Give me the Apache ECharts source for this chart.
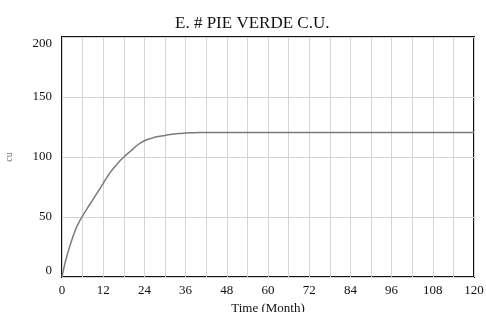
<!DOCTYPE html>
<html style="height: 100%">
<head>
    <meta charset="utf-8">
</head>
<body style="height: 100%; margin: 0; background: #fff">
    <div id="container" style="width: 486px; height: 312px"></div>
    <script type="text/javascript" src="https://cdn.jsdelivr.net/npm/echarts@6/dist/echarts.min.js"></script>
    <script type="text/javascript">
        // months and E. # PIE VERDE C.U. values
        var months = [0, 1, 2, 3, 4, 5, 6, 8, 10, 12, 14, 16, 18, 20, 22, 24, 26, 28, 30, 32, 34, 36, 38, 40, 44, 48, 60, 72, 84, 96, 108, 120];
        var pieVerde = [0, 13, 23, 32, 40, 46, 51, 60, 69, 78, 87, 94, 100, 105, 110, 113.5, 115.5, 117, 118, 119, 119.5, 120, 120.2, 120.4, 120.5, 120.5, 120.5, 120.5, 120.5, 120.5, 120.5, 120.5];
        var xTicks = [0, 12, 24, 36, 48, 60, 72, 84, 96, 108, 120];
        var yTicks = [0, 50, 100, 150, 200];

        var serif = 'Liberation Serif';
        var points = months.map(function (m, i) { return [m, pieVerde[i]]; });

        var myChart = echarts.init(document.getElementById('container'));
        var option = {
            animation: false,
            title: {
                text: 'E. # PIE VERDE C.U.',
                left: 170,
                top: 10,
                textStyle: { fontFamily: serif, fontWeight: 'normal', fontSize: 17, color: '#111' }
            },
            grid: {
                left: 62, right: 12, top: 37, bottom: 35,
                outerBoundsMode: 'none',
                containLabel: false,
                show: true,
                borderColor: '#111',
                borderWidth: 2
            },
            xAxis: {
                type: 'value',
                min: 0,
                max: 120,
                interval: 6,
                name: 'Time (Month)',
                nameLocation: 'middle',
                nameGap: 21,
                nameTextStyle: { fontFamily: serif, fontSize: 13, color: '#111' },
                axisLine: { show: false },
                axisTick: { show: false },
                axisLabel: {
                    margin: 7,
                    fontFamily: serif, fontSize: 13, color: '#111',
                    formatter: function (v) { return xTicks.indexOf(v) >= 0 ? String(v) : ''; }
                },
                splitLine: { lineStyle: { color: '#d4d4d4', width: 1 } }
            },
            yAxis: {
                type: 'value',
                min: yTicks[0],
                max: yTicks[yTicks.length - 1],
                interval: 50,
                name: 'cu',
                nameLocation: 'middle',
                nameRotate: 90,
                nameGap: 48,
                nameTextStyle: { fontFamily: serif, fontSize: 10, color: '#777' },
                axisLine: { show: false },
                axisTick: { show: false },
                axisLabel: {
                    margin: 10,
                    fontFamily: serif, fontSize: 13, color: '#111',
                    verticalAlignMinLabel: 'bottom',
                    verticalAlignMaxLabel: 'top'
                },
                splitLine: { lineStyle: { color: '#d4d4d4', width: 1 } }
            },
            series: [{
                name: 'E. # PIE VERDE C.U.',
                type: 'line',
                data: points,
                smooth: 0.3,
                showSymbol: false,
                lineStyle: { color: '#7a7a7a', width: 1.5 }
            }]
        };
        myChart.setOption(option);
    </script>
</body>
</html>
